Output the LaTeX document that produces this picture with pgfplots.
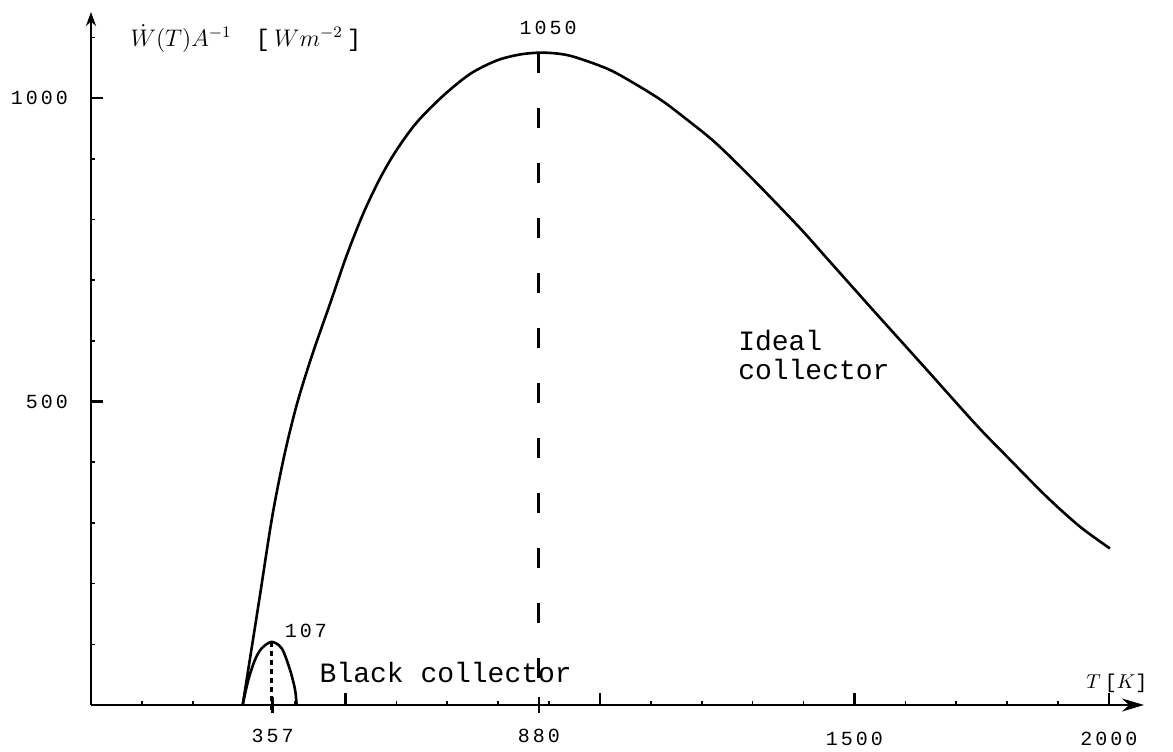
\documentclass[border=0pt]{standalone}
\usepackage{fontspec}
\usepackage{pgfplots}
\pgfplotsset{compat=1.18}
\usetikzlibrary{arrows.meta}
\setmainfont{Liberation Serif}
\newfontfamily\mono{Liberation Mono}
\newfontfamily\tickfont[LetterSpace=15]{Liberation Mono}
\newcommand{\tk}{\tickfont\fontsize{10}{12}\selectfont}

% ideal collector, T [K] vs W/A [W m^-2]
\pgfplotstableread{
T W
298 0
330 170
356 310
380 412
405 497
435 578
470 662
502 740
535 810
568 868
600 914
640 960
692 1004
745 1040
797 1062
843 1072
889 1075
941 1070
1013 1049
1060 1028
1120 997
1172 964
1229 925
1308 860
1394 785
1445 737
1530 657
1589 602
1648 547
1740 461
1799 410
1878 343
1943 294
2002 258
}\ideal

% black collector
\pgfplotstableread{
T W
298 0
309 41
322 74
335 93
355 104
375 93
391 58
401 25
404 0
}\black

\begin{document}
\begin{tikzpicture}
\useasboundingbox (-45.5pt,-23pt) rectangle (541pt,352.5pt);
\begin{axis}[
  width=526.5pt,
  height=346.5pt,
  scale only axis,
  axis lines=left,
  axis line style={line width=1.2pt},
  x axis line style={-{Stealth[length=11pt,width=6.5pt]}},
  y axis line style={-{Stealth[length=7pt,width=5pt]}},
  xmin=0, xmax=2069,
  ymin=0, ymax=1142,
  tick align=inside,
  major tick length=6pt,
  minor tick length=2pt,
  major tick style={line width=1.2pt, black},
  minor tick style={line width=0.8pt, black},
  xtick={500,1000,1500,2000},
  xticklabels={,,1500,2000},
  minor xtick={100,200,...,2000},
  extra x ticks={357,880},
  extra x tick labels={357,880},
  extra x tick style={tick align=center, major tick length=8pt,
    xticklabel style={yshift=5.5pt}},
  ytick={500,1000},
  yticklabels={500,1000},
  minor ytick={100,200,...,1100},
  tick label style={font=\tk},
  xticklabel style={yshift=-10pt},
  yticklabel style={xshift=-8pt},
  clip=false
]
\addplot[black, line width=1.3pt, smooth] table[x=T, y=W] {\ideal};
\addplot[black, line width=1.3pt, smooth] table[x=T, y=W] {\black};
\addplot[black, line width=1.4pt, dash pattern=on 10pt off 17.5pt] coordinates {(880,1075) (880,0)};
\addplot[black, line width=1.2pt, dash pattern=on 2.5pt off 2pt] coordinates {(355,104) (355,-8)};

\node[font=\tk] at (axis cs:898,1116) {1050};
\node[font=\tk] at (axis cs:422,122) {107};
\node[font=\mono\fontsize{14}{16}\selectfont] at (axis cs:697,53) {Black collector};
\node[font=\mono\fontsize{14}{14.5}\selectfont, anchor=west, align=left, inner sep=0pt]
  at (axis cs:1271,577) {Ideal\\collector};
\node[anchor=west, inner sep=0pt, font=\fontsize{12}{14}\selectfont]
  at (axis cs:77,1099) {$\dot{W}(T)A^{-1}$\quad{\mono[}\,$Wm^{-2}$\,{\mono]}};
\node[anchor=west, inner sep=0pt, font=\fontsize{10}{12}\selectfont]
  at (axis cs:1955,36) {$T$\hspace{2pt}{\mono[}$K${\mono]}};
\end{axis}
\end{tikzpicture}
\end{document}
